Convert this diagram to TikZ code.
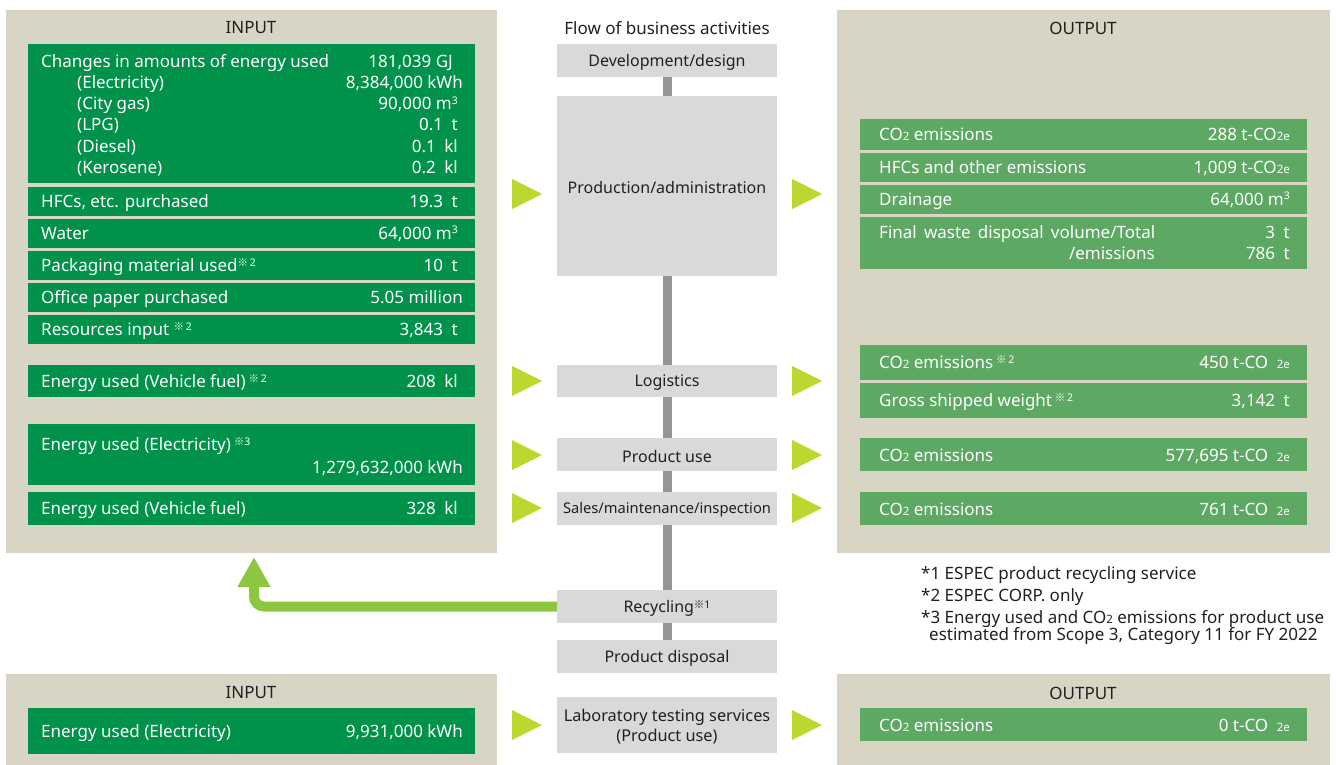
\documentclass[tikz,border=0pt]{standalone}
\usepackage{fontspec}
\setmainfont{Noto Sans}
\newfontfamily\cjkf{Noto Sans CJK JP}
\usetikzlibrary{fit,arrows.meta}
\definecolor{tan}{HTML}{D8D5C5}
\definecolor{dgreen}{HTML}{00924A}
\definecolor{lgreen}{HTML}{5DA963}
\definecolor{boxgray}{HTML}{D9D9D9}
\definecolor{linegray}{HTML}{939598}
\definecolor{arrowc}{HTML}{BED630}
\definecolor{recyc}{HTML}{8DC63F}
\definecolor{txt}{HTML}{231F20}
\newcommand\kome[1]{\raisebox{0.45ex}{\fontsize{10.5}{10}\selectfont{\cjkf ※}#1}}
\newcommand\sub[1]{{\fontsize{11.5}{11}\selectfont #1}}
\newcommand\mcube{m\raisebox{0.6ex}{\fontsize{10.5}{10}\selectfont 3}}
\newcommand\cotwo{CO\sub{2}}
\begin{document}
\begin{tikzpicture}[x=1pt,y=-1pt,
  panel/.style={fill=tan,inner sep=0pt,draw=none},
  dbar/.style={fill=dgreen,inner sep=0pt,draw=none},
  lbar/.style={fill=lgreen,inner sep=0pt,draw=none},
  gbox/.style={fill=boxgray,inner sep=0pt,draw=none},
  lt/.style={font=\fontsize{17}{20}\selectfont,text=white,anchor=base west,inner sep=0pt,yshift=-6pt},
  vt/.style={font=\fontsize{17}{20}\selectfont,text=white,anchor=base east,inner sep=0pt,yshift=-6pt},
  title/.style={font=\fontsize{17}{20}\selectfont,text=txt,inner sep=0pt},
  ct/.style={font=\fontsize{16}{20}\selectfont,text=txt,inner sep=0pt,align=center,yshift=-1.5pt},
  fn/.style={font=\fontsize{17}{19}\selectfont,text=txt,inner sep=0pt,anchor=base west},
  tri/.pic={\fill[arrowc] (0,-15) -- (30,0) -- (0,15) -- cycle;}
]
\useasboundingbox (0,0) rectangle (1338,765);
% panels
\node[panel,fit={(6,10)(497,553)}] (inTop) {};
\node[panel,fit={(837,10)(1330,553)}] (outTop) {};
\node[panel,fit={(6,674)(497,765)}] (inBot) {};
\node[panel,fit={(837,674)(1330,765)}] (outBot) {};
\node[title] at (251,28) {INPUT};
\node[title] at (1083,28) {OUTPUT};
\node[title] at (251,693) {INPUT};
\node[title] at (1083,693) {OUTPUT};
\node[title] at (667,28) {Flow of business activities};

% center column
\node[gbox,fit={(557,44)(777,77)}] (dev) {};
\node[gbox,fit={(557,96)(777,276)}] (prod) {};
\node[gbox,fit={(557,365)(777,397)}] (logi) {};
\node[gbox,fit={(557,438)(777,471)}] (puse) {};
\node[gbox,fit={(557,492)(777,525)}] (sales) {};
\node[gbox,fit={(557,590)(777,623)}] (rec) {};
\node[gbox,fit={(557,640)(777,673)}] (disp) {};
\node[gbox,fit={(557,697)(777,753)}] (lab) {};
\draw[linegray,line width=9pt] (dev.south) -- (prod.north);
\draw[linegray,line width=9pt] (prod.south) -- (logi.north);
\draw[linegray,line width=9pt] (logi.south) -- (puse.north);
\draw[linegray,line width=9pt] (puse.south) -- (sales.north);
\draw[linegray,line width=9pt] (sales.south) -- (rec.north);
\draw[linegray,line width=9pt] (rec.south) -- (disp.north);
\node[ct] at (dev.center) {Development/design};
\node[ct] at (prod.center) {Production/administration};
\node[ct] at (logi.center) {Logistics};
\node[ct] at (puse.center) {Product use};
\node[ct,font=\fontsize{14.7}{19}\selectfont] at (sales.center) {Sales/maintenance/inspection};
\node[ct] at (rec.center) {Recycling\kome{1}};
\node[ct] at (disp.center) {Product disposal};
\node[ct,font=\fontsize{16.3}{20}\selectfont] at (lab.center) {Laboratory testing services\\(Product use)};

% recycling arrow
\coordinate (recTip) at (254,557);
\draw[recyc,line width=10pt,rounded corners=10pt,-{Triangle[width=31pt,length=30pt]}] (rec.west) -| (recTip);

% triangles
\foreach \y in {194,381,455,508,725} {
  \pic at (512,\y) {tri};
  \pic at (792,\y) {tri};
}

% left bars
\node[dbar,fit={(28,44)(475,183)}] (b1) {};
\node[dbar,fit={(28,187)(475,216)}] (b2) {};
\node[dbar,fit={(28,219)(475,248)}] (b3) {};
\node[dbar,fit={(28,251)(475,280)}] (b4) {};
\node[dbar,fit={(28,283)(475,312)}] (b5) {};
\node[dbar,fit={(28,315)(475,344)}] (b6) {};
\node[dbar,fit={(28,365)(475,397)}] (b7) {};
\node[dbar,fit={(28,424)(475,485)}] (b8) {};
\node[dbar,fit={(28,492)(475,525)}] (b9) {};
\node[dbar,fit={(28,708)(475,754)}] (b10) {};

\node[lt] at (41,62) {Changes in amounts of energy used};
\node[vt] at (453,62) {181,039 GJ};
\node[lt] at (77,83) {(Electricity)};
\node[vt] at (463,83) {8,384,000 kWh};
\node[lt] at (77,104) {(City gas)};
\node[vt] at (458,104) {90,000 \mcube};
\node[lt] at (77,125) {(LPG)};
\node[vt] at (458,125) {0.1\enspace t};
\node[lt] at (77,146) {(Diesel)};
\node[vt] at (458,146) {0.1\enspace kl};
\node[lt] at (77,167) {(Kerosene)};
\node[vt] at (458,167) {0.2\enspace kl};
\node[lt] at (41,201) {HFCs, etc. purchased};
\node[vt] at (458,201) {19.3\enspace t};
\node[lt] at (41,233) {Water};
\node[vt] at (458,233) {64,000 \mcube};
\node[lt] at (41,265) {Packaging material used\kome{\,2}};
\node[vt] at (458,265) {10\enspace t};
\node[lt] at (41,297) {Office paper purchased};
\node[vt] at (463,297) {5.05 million};
\node[lt] at (41,329) {Resources input \kome{\,2}};
\node[vt] at (458,329) {3,843\enspace t};
\node[lt] at (41,381) {Energy used (Vehicle fuel)\,\kome{\,2}};
\node[vt] at (458,381) {208\enspace kl};
\node[lt] at (41,444) {Energy used (Electricity)\,\kome{3}};
\node[vt] at (463,467) {1,279,632,000 kWh};
\node[lt] at (41,508) {Energy used (Vehicle fuel)};
\node[vt] at (458,508) {328\enspace kl};
\node[lt] at (41,731) {Energy used (Electricity)};
\node[vt] at (463,731) {9,931,000 kWh};

% right bars
\node[lbar,fit={(860,119)(1307,150)}] (r1) {};
\node[lbar,fit={(860,153)(1307,182)}] (r2) {};
\node[lbar,fit={(860,185)(1307,214)}] (r3) {};
\node[lbar,fit={(860,217)(1307,269)}] (r4) {};
\node[lbar,fit={(860,345)(1307,380)}] (r5) {};
\node[lbar,fit={(860,383)(1307,418)}] (r6) {};
\node[lbar,fit={(860,438)(1307,471)}] (r7) {};
\node[lbar,fit={(860,492)(1307,525)}] (r8) {};
\node[lbar,fit={(860,708)(1307,741)}] (r9) {};

\node[lt] at (879,135) {\cotwo{} emissions};
\node[vt] at (1290,135) {288 t-CO\sub{2e}};
\node[lt] at (879,167) {HFCs and other emissions};
\node[vt] at (1290,167) {1,009 t-CO\sub{2e}};
\node[lt] at (879,199) {Drainage};
\node[vt] at (1290,199) {64,000 \mcube};
\node[lt] at (879,232) {\makebox[276pt][s]{Final waste disposal volume/Total}};
\node[vt] at (1155,253) {/emissions};
\node[vt] at (1290,232) {3\enspace t};
\node[vt] at (1290,253) {786\enspace t};
\node[lt] at (879,362) {\cotwo{} emissions\,\kome{\,2}};
\node[vt] at (1290,362) {450 t-CO\enspace\sub{2e}};
\node[lt] at (879,400) {Gross shipped weight\,\kome{\,2}};
\node[vt] at (1290,400) {3,142\enspace t};
\node[lt] at (879,455) {\cotwo{} emissions};
\node[vt] at (1290,455) {577,695 t-CO\enspace\sub{2e}};
\node[lt] at (879,509) {\cotwo{} emissions};
\node[vt] at (1290,509) {761 t-CO\enspace\sub{2e}};
\node[lt] at (879,725) {\cotwo{} emissions};
\node[vt] at (1290,725) {0 t-CO\enspace\sub{2e}};

% footnotes
\node[fn] at (921,579) {*1 ESPEC product recycling service};
\node[fn] at (921,601) {*2 ESPEC CORP. only};
\node[fn] at (921,623) {*3 Energy used and CO\sub{2} emissions for product use};
\node[fn] at (929,640) {estimated from Scope 3, Category 11 for FY 2022};
\end{tikzpicture}
\end{document}
